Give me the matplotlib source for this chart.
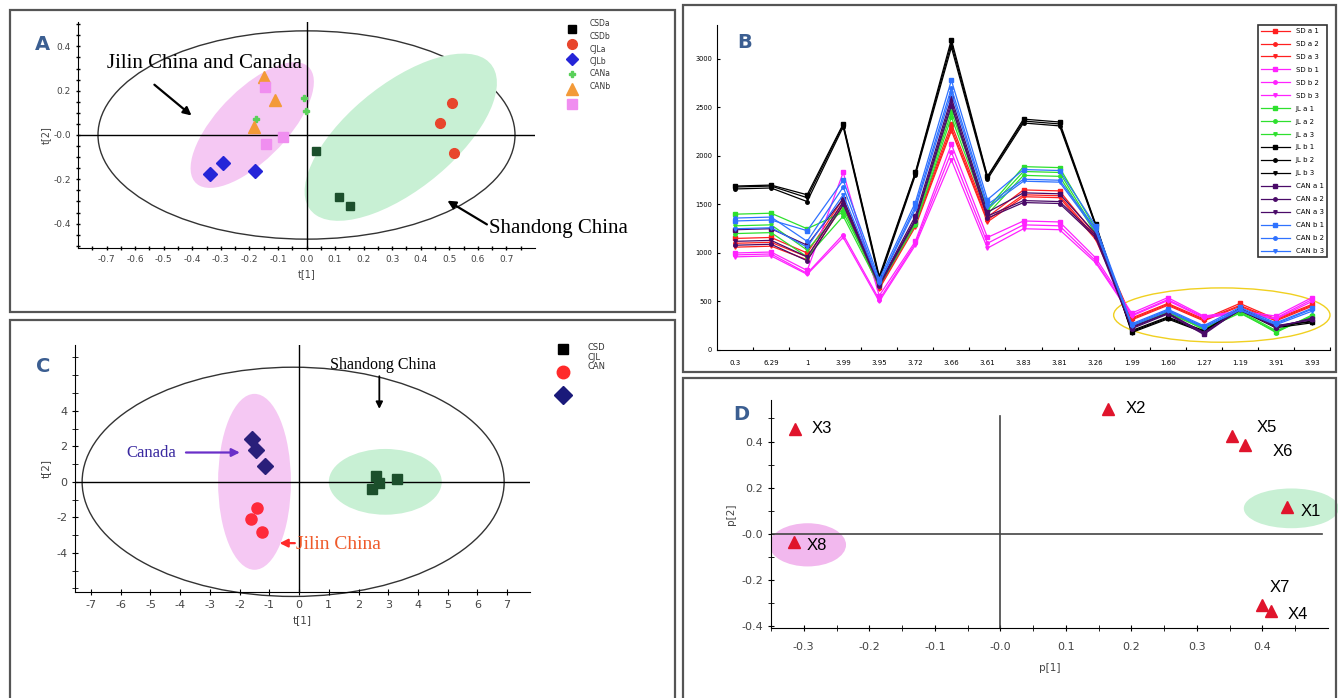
import numpy as np
import matplotlib.pyplot as plt
from matplotlib.patches import Ellipse, Rectangle
from matplotlib.lines import Line2D

W, H = 1338, 698
plt.rcParams["axes.unicode_minus"] = False

# ---------------- Panel A data (PCA scores, 6 classes) ----------------
a_classes = ["CSDa", "CSDb", "CJLa", "CJLb", "CANa", "CANb"]
csda_x = [0.035, 0.115, 0.153]
csda_y = [-0.07, -0.28, -0.32]
csdb_x = [0.51, 0.467, 0.516]
csdb_y = [0.145, 0.055, -0.08]
cjla_x = [-0.338, -0.293, -0.18]
cjla_y = [-0.177, -0.127, -0.164]
cjlb_x = [-0.178, -0.01, -0.003]
cjlb_y = [0.073, 0.168, 0.11]
cana_x = [-0.15, -0.111, -0.185]
cana_y = [0.264, 0.159, 0.036]
canb_x = [-0.146, -0.143, -0.084]
canb_y = [0.218, -0.041, -0.009]

# ---------------- Panel B data (fingerprint profiles) ----------------
b_ticklabels = ["0.3", "6.29", "1", "3.99", "3.95", "3.72", "3.66", "3.61", "3.83",
                "3.81", "3.26", "1.99", "1.60", "1.27", "1.19", "3.91", "3.93"]
b_labels = ["SD a 1", "SD a 2", "SD a 3", "SD b 1", "SD b 2", "SD b 3",
            "JL a 1", "JL a 2", "JL a 3", "JL b 1", "JL b 2", "JL b 3",
            "CAN a 1", "CAN a 2", "CAN a 3", "CAN b 1", "CAN b 2", "CAN b 3"]
sda1 = [1150, 1160, 1000, 1560, 650, 1310, 2330, 1370, 1650, 1640, 1180, 330, 480, 320, 480, 320, 470]
sda2 = [1100, 1110, 960, 1520, 640, 1290, 2290, 1340, 1600, 1590, 1160, 320, 470, 310, 460, 310, 460]
sda3 = [1060, 1070, 930, 1490, 630, 1270, 2260, 1320, 1580, 1570, 1140, 310, 460, 300, 450, 300, 450]
sdb1 = [1000, 1010, 820, 1830, 560, 1120, 2120, 1160, 1330, 1320, 950, 380, 540, 350, 400, 350, 540]
sdb2 = [980, 990, 790, 1190, 520, 1100, 2040, 1100, 1290, 1280, 920, 360, 520, 340, 390, 330, 520]
sdb3 = [960, 970, 780, 1160, 500, 1080, 1960, 1050, 1250, 1240, 900, 350, 510, 330, 380, 320, 500]
jla1 = [1400, 1410, 1250, 1420, 690, 1320, 2450, 1460, 1890, 1880, 1250, 230, 400, 210, 380, 190, 350]
jla2 = [1200, 1210, 960, 1380, 660, 1290, 2400, 1400, 1800, 1790, 1200, 250, 390, 230, 390, 180, 360]
jla3 = [1280, 1290, 1030, 1460, 670, 1330, 2500, 1440, 1840, 1830, 1220, 240, 380, 220, 400, 200, 340]
jlb1 = [1690, 1700, 1600, 2330, 760, 1830, 3200, 1790, 2380, 2350, 1300, 190, 330, 190, 430, 250, 290]
jlb2 = [1660, 1670, 1530, 2300, 720, 1800, 3120, 1760, 2340, 2310, 1280, 200, 340, 200, 420, 240, 300]
jlb3 = [1680, 1690, 1570, 2320, 740, 1820, 3160, 1780, 2360, 2330, 1290, 180, 320, 180, 410, 230, 280]
cana1 = [1240, 1250, 1080, 1560, 680, 1380, 2600, 1420, 1620, 1610, 1200, 230, 380, 170, 430, 240, 320]
cana2 = [1080, 1090, 920, 1500, 660, 1330, 2520, 1360, 1520, 1510, 1160, 220, 370, 160, 420, 230, 330]
cana3 = [1120, 1130, 960, 1530, 670, 1350, 2560, 1380, 1540, 1530, 1180, 240, 380, 180, 410, 250, 310]
canb1 = [1330, 1340, 1230, 1750, 730, 1520, 2780, 1550, 1860, 1850, 1280, 270, 420, 250, 440, 280, 430]
canb2 = [1360, 1370, 1120, 1680, 700, 1480, 2700, 1500, 1760, 1750, 1250, 260, 410, 240, 420, 270, 420]
canb3 = [1250, 1260, 1060, 1600, 690, 1450, 2650, 1470, 1740, 1730, 1230, 250, 400, 230, 410, 260, 400]

# ---------------- Panel C data (3 origins) ----------------
c_classes = ["CSD", "CJL", "CAN"]
csd_x = [2.6, 2.45, 2.7, 3.3]
csd_y = [0.35, -0.4, -0.05, 0.15]
cjl_x = [-1.42, -1.63, -1.25]
cjl_y = [-1.5, -2.1, -2.8]
can_x = [-1.6, -1.45, -1.15]
can_y = [2.4, 1.8, 0.9]

# ---------------- Panel D data (loadings) ----------------
d_names = ["X1", "X2", "X3", "X4", "X5", "X6", "X7", "X8"]
d_x = [0.437, 0.164, -0.314, 0.413, 0.354, 0.373, 0.399, -0.315]
d_y = [0.118, 0.542, 0.456, -0.335, 0.424, 0.387, -0.306, -0.036]
d_offsets = [(24, -5), (28, 0), (27, 0), (27, -3), (34, 9), (38, -7), (18, 17), (23, -3)]


def rect(x0, y0, x1, y1):
    return [x0 / W, 1 - y1 / H, (x1 - x0) / W, (y1 - y0) / H]


fig = plt.figure(figsize=(W / 100, H / 100), dpi=100)
fig.patch.set_facecolor("white")

# panel frames
for x0, y0, x1, y1 in [(10, 10, 675, 312), (683, 5, 1336, 372),
                       (10, 320, 675, 705), (683, 378, 1336, 705)]:
    fig.patches.append(Rectangle((x0 / W, 1 - y1 / H), (x1 - x0) / W, (y1 - y0) / H,
                                 transform=fig.transFigure, fill=False,
                                 edgecolor="#555555", lw=1.6))

serif = "Liberation Serif"
letter_kw = dict(fontsize=14, fontweight="bold", color="#3b5e91")
tick_gray = "#444444"

# ======================= Panel A =======================
axA = fig.add_axes(rect(78, 22, 535, 248))
axA.set_xlim(-0.8, 0.8)
axA.set_ylim(-0.51, 0.51)
for s in ["top", "right"]:
    axA.spines[s].set_visible(False)
axA.axhline(0, color="black", lw=1)
axA.axvline(0, color="black", lw=1)
axA.add_patch(Ellipse((0.0, 0.0), 1.46, 0.94, fill=False, edgecolor="#333333", lw=1))
axA.add_patch(Ellipse((-0.19, 0.045), 0.66, 0.27, angle=56, facecolor="#f5c8f3", edgecolor="none"))
axA.add_patch(Ellipse((0.33, -0.01), 0.92, 0.42, angle=50, facecolor="#c8f0d4", edgecolor="none"))
axA.plot(csda_x, csda_y, "s", color="#1c4f2c", ms=6)
axA.plot(csdb_x, csdb_y, "o", color="#e8452c", ms=7)
axA.plot(cjla_x, cjla_y, "D", color="#2525d8", ms=7)
axA.plot(cjlb_x, cjlb_y, "P", color="#5ad05a", ms=5)
axA.plot(cana_x, cana_y, "^", color="#f39a38", ms=8)
axA.plot(canb_x, canb_y, "s", color="#f08ef0", ms=7)
xt = np.round(np.arange(-0.7, 0.71, 0.1), 1)
axA.set_xticks(xt)
axA.set_xticklabels(["%.1f" % v if abs(v) > 1e-9 else "0.0" for v in xt])
axA.set_xticks(np.arange(-0.75, 0.8, 0.05), minor=True)
axA.set_yticks([-0.4, -0.2, 0.0, 0.2, 0.4])
axA.set_yticklabels(["-0.4", "-0.2", "-0.0", "0.2", "0.4"])
axA.set_yticks(np.arange(-0.5, 0.51, 0.05), minor=True)
axA.tick_params(which="both", labelsize=6.5, labelcolor=tick_gray, direction="inout", length=3, width=1)
axA.set_xlabel("t[1]", fontsize=7, color=tick_gray, labelpad=4)
axA.set_ylabel("t[2]", fontsize=7, color=tick_gray, labelpad=2)
axA.annotate("", xy=(-0.395, 0.08), xytext=(-0.54, 0.235),
             arrowprops=dict(arrowstyle="-|>", color="black", lw=1.6, mutation_scale=12))
fig.text(107 / W, 1 - 63 / H, "Jilin China and Canada", fontsize=15, family=serif, va="center")
axA.annotate("", xy=(0.485, -0.29), xytext=(0.64, -0.41),
             arrowprops=dict(arrowstyle="-|>", color="black", lw=1.6, mutation_scale=12))
fig.text(489 / W, 1 - 228 / H, "Shandong China", fontsize=15, family=serif, va="center")
fig.text(35 / W, 1 - 45 / H, "A", va="center", **letter_kw)

# Panel A legend (markers and texts at their own spacing, as in the original)
a_leg = [("s", "black", 6), ("o", "#e8452c", 7), ("D", "#2525d8", 6),
         ("P", "#5ad05a", 5), ("^", "#f39a38", 8), ("s", "#f08ef0", 7)]
for i, (name, (m, c, ms)) in enumerate(zip(a_classes, a_leg)):
    fig.lines.append(Line2D([572 / W], [1 - (29 + 15 * i) / H], marker=m, color=c, ms=ms,
                            transform=fig.transFigure, ls="none"))
    fig.text(590 / W, 1 - (24 + 12.5 * i) / H, name, fontsize=5.5, color="#333333", va="center")

# ======================= Panel B =======================
axB = fig.add_axes(rect(717, 25, 1330, 350))
b_series = [sda1, sda2, sda3, sdb1, sdb2, sdb3, jla1, jla2, jla3,
            jlb1, jlb2, jlb3, cana1, cana2, cana3, canb1, canb2, canb3]
b_colors = ["#ff2020"] * 3 + ["#ff22ff"] * 3 + ["#2ee02e"] * 3 + ["#000000"] * 3 + \
           ["#4a0a68"] * 3 + ["#2f72ff"] * 3
b_markers = ["s", "o", "v"] * 6
xs = np.arange(len(b_ticklabels))
for vals, lab, c, m in zip(b_series, b_labels, b_colors, b_markers):
    axB.plot(xs, vals, color=c, marker=m, ms=2.5, lw=0.9, label=lab)
axB.add_patch(Ellipse((13.5, 360), 6.0, 560, fill=False, edgecolor="#f0d020", lw=1, clip_on=False))
axB.set_xlim(-0.5, 16.26)
axB.set_ylim(0, 3350)
for s in ["top", "right"]:
    axB.spines[s].set_visible(False)
axB.set_xticks(xs + 0.5)
axB.set_xticklabels([])
axB.set_xticks(xs, minor=True)
axB.set_xticklabels(b_ticklabels, minor=True)
axB.tick_params(axis="x", which="minor", length=0, labelsize=5, pad=7)
axB.tick_params(axis="x", which="major", length=2, direction="in")
axB.set_yticks([0, 500, 1000, 1500, 2000, 2500, 3000])
axB.tick_params(axis="y", labelsize=4.8, length=2, direction="in")
leg = axB.legend(loc="upper right", bbox_to_anchor=(1.0, 1.01), fontsize=5, frameon=True,
                 fancybox=False, edgecolor="black", labelspacing=1.0, handlelength=4.2,
                 borderpad=0.4)
leg.get_frame().set_linewidth(1.2)
fig.text(737 / W, 1 - 43 / H, "B", va="center", **letter_kw)

# ======================= Panel C =======================
axC = fig.add_axes(rect(75, 345, 530, 592))
axC.set_xlim(-7.54, 7.77)
axC.set_ylim(-6.2, 7.7)
for s in ["top", "right"]:
    axC.spines[s].set_visible(False)
axC.axhline(0, color="black", lw=1)
axC.axvline(0, color="black", lw=1)
axC.add_patch(Ellipse((-0.2, 0.0), 14.2, 12.9, fill=False, edgecolor="#333333", lw=1, clip_on=False))
axC.add_patch(Ellipse((-1.5, 0.0), 2.45, 9.9, facecolor="#f5c8f3", edgecolor="none"))
axC.add_patch(Ellipse((2.9, 0.0), 3.8, 3.7, facecolor="#c8f0d4", edgecolor="none"))
axC.plot(csd_x, csd_y, "s", color="#1c4f2c", ms=7)
axC.plot(cjl_x, cjl_y, "o", color="#ff2a3a", ms=8)
axC.plot(can_x, can_y, "D", color="#2a1f7a", ms=8)
axC.set_xticks(range(-7, 8))
axC.set_yticks([-4, -2, 0, 2, 4])
axC.set_yticks(range(-6, 8), minor=True)
axC.tick_params(which="both", labelsize=8, labelcolor=tick_gray, direction="inout", length=4)
axC.set_xlabel("t[1]", fontsize=7.5, color=tick_gray)
axC.set_ylabel("t[2]", fontsize=7.5, color=tick_gray)
axC.annotate("", xy=(2.7, 3.95), xytext=(2.7, 6.1),
             arrowprops=dict(arrowstyle="-|>", color="black", lw=1.3, mutation_scale=10))
axC.text(1.05, 6.6, "Shandong China", fontsize=11.5, family=serif, va="center")
axC.annotate("", xy=(-1.9, 1.65), xytext=(-3.9, 1.65),
             arrowprops=dict(arrowstyle="-|>", color="#6a2fc8", lw=1.6, mutation_scale=12))
axC.text(-5.8, 1.65, "Canada", fontsize=12, family=serif, color="#3a2aa0", va="center")
axC.annotate("", xy=(-0.75, -3.45), xytext=(-0.05, -3.45),
             arrowprops=dict(arrowstyle="-|>", color="#ff2a2a", lw=1.6, mutation_scale=12))
axC.text(-0.1, -3.55, "Jilin China", fontsize=14, family=serif, color="#ef5a2a", va="center")
fig.text(36 / W, 1 - 367 / H, "C", va="center", **letter_kw)

c_leg = [("s", "black", 7), ("o", "#ff2a2a", 9), ("D", "#1a1a7a", 9)]
for i, (name, (m, c, ms)) in enumerate(zip(c_classes, c_leg)):
    fig.lines.append(Line2D([563 / W], [1 - (349 + 23 * i) / H], marker=m, color=c, ms=ms,
                            transform=fig.transFigure, ls="none"))
    fig.text(588 / W, 1 - (348 + 9.5 * i) / H, name, fontsize=6, color="#333333", va="center")

# ======================= Panel D =======================
axD = fig.add_axes(rect(771, 400, 1328, 628))
axD.set_xlim(-0.348, 0.5)
axD.set_ylim(-0.407, 0.58)
for s in ["top", "right"]:
    axD.spines[s].set_visible(False)
axD.axhline(0, color="#444444", lw=1.2, xmax=0.99)
axD.axvline(0, color="#444444", lw=1.2, ymax=0.93)
axD.add_patch(Ellipse((0.444, 0.111), 0.145, 0.172, facecolor="#c8f0d4", edgecolor="none", clip_on=False))
axD.add_patch(Ellipse((-0.294, -0.047), 0.117, 0.187, facecolor="#f2b8ee", edgecolor="none"))
axD.plot(d_x, d_y, "^", color="#e0142c", ms=9, ls="none")
for name, x, y, off in zip(d_names, d_x, d_y, d_offsets):
    axD.annotate(name, (x, y), xytext=off, textcoords="offset pixels", ha="center",
                 va="center", fontsize=12, family="Liberation Sans")
axD.set_xticks([-0.3, -0.2, -0.1, 0.0, 0.1, 0.2, 0.3, 0.4])
axD.set_xticklabels(["-0.3", "-0.2", "-0.1", "-0.0", "0.1", "0.2", "0.3", "0.4"])
axD.set_xticks(np.arange(-0.35, 0.5, 0.05), minor=True)
axD.set_yticks([-0.4, -0.2, 0.0, 0.2, 0.4])
axD.set_yticklabels(["-0.4", "-0.2", "-0.0", "0.2", "0.4"])
axD.set_yticks(np.arange(-0.4, 0.58, 0.1), minor=True)
axD.tick_params(which="both", labelsize=8, labelcolor=tick_gray, direction="inout", length=4)
axD.tick_params(axis="x", pad=8)
axD.set_xlabel("p[1]", fontsize=7.5, color=tick_gray, labelpad=8)
axD.set_ylabel("p[2]", fontsize=7.5, color=tick_gray)
fig.text(741 / W, 1 - 415 / H, "D", va="center", ha="center", **letter_kw)

fig.savefig("out.png", dpi=100)
